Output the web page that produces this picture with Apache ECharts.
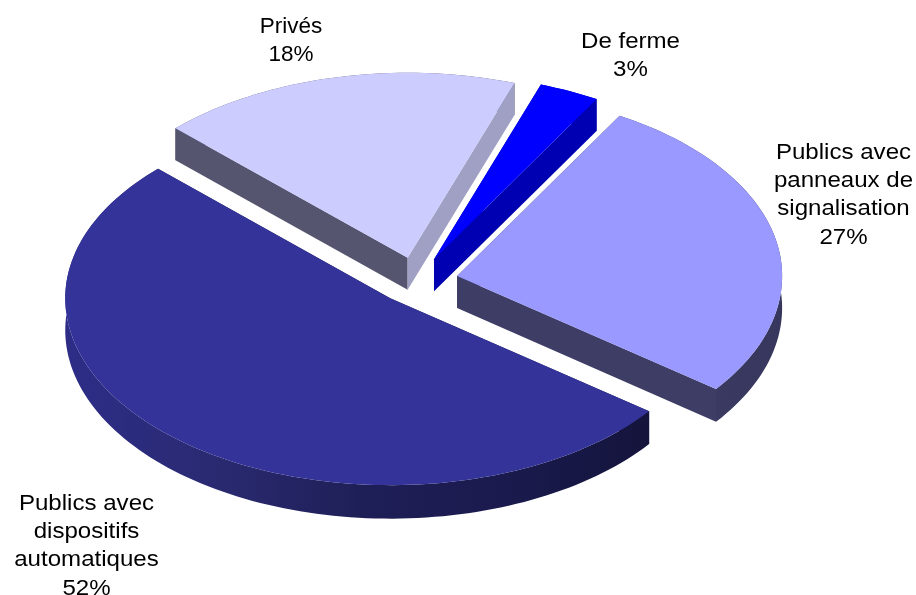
<!DOCTYPE html>
<html lang="fr">
<head>
<meta charset="utf-8">
<title>Passages à niveau</title>
<style>
  html, body { margin: 0; padding: 0; background: #fff; }
  #chart { width: 916px; height: 595px; }
</style>
<script src="https://cdn.jsdelivr.net/npm/echarts@6/dist/echarts.min.js"></script>
</head>
<body>
<div id="chart"></div>
<script>
// Slices, clockwise from the first angle
const categories = ['De ferme', 'Publics avec\npanneaux de\nsignalisation', 'Publics avec\ndispositifs\nautomatiques', 'Privés'];
const shares = [3, 27, 52, 18];

// Tilted-disc geometry: the near half reads slightly larger than the far half
const CX = 417, CY = 280.5, RX = 325, RY_FAR = 185, RY_NEAR = 187;
const DEPTH_FAR = 32, DEPTH_NEAR = 33.5;
const EXPLODE = 0.126;
const FIRST_ANGLE = 19.2;

// Top face, radial faces and rim colours per slice
const topColors = ['#0000ff', '#9999ff', '#333399', '#ccccff'];
const startFaceColors = ['#000099', '#3d3d66', '#1a1a4d', '#555570'];
const endFaceColors = ['#0000b3', '#3d3d66', '#1a1a4d', '#a0a0c4'];
const rimStops = [
  [[0, '#0000b3'], [1, '#0000b3']],
  [[0, '#3d3d66'], [1, '#37375e']],
  [[0, '#2d2d88'], [0.25, '#2a2a72'], [0.5, '#1f1f58'], [0.75, '#1a1a4e'], [1, '#14143c']],
  [[0, '#555570'], [1, '#555570']]
];

// Centre and horizontal stretch of each label block
const labelCenters = [[630.5, 56], [843.5, 195], [86.5, 546], [291, 40.5]];
const labelStretch = [1.07, 1.07, 1.07, 1];

const total = shares.reduce((a, b) => a + b, 0);

function project(cx, cy, deg) {
  const t = deg * Math.PI / 180;
  const c = Math.cos(t);
  return [cx + RX * Math.sin(t), cy - (c < 0 ? RY_NEAR : RY_FAR) * c, c];
}

function renderSlice(params, api) {
  const i = params.dataIndex;
  const value = api.value(0);
  let before = 0;
  for (let k = 0; k < i; k++) before += shares[k];
  const a0 = FIRST_ANGLE + before / total * 360;
  const a1 = a0 + value / total * 360;
  const mid = (a0 + a1) / 2 * Math.PI / 180;

  // The whole slice is pushed out along its bisector
  const cx = CX + EXPLODE * RX * Math.sin(mid);
  const cy = CY - EXPLODE * RY_FAR * Math.cos(mid);

  const arc = [];
  const steps = Math.max(4, Math.ceil((a1 - a0) / 1.5));
  for (let s = 0; s <= steps; s++) {
    arc.push(project(cx, cy, a0 + (a1 - a0) * s / steps));
  }
  const flat = p => [p[0], p[1]];
  const drop = p => {
    const near = p[2] < 0 ? -p[2] : 0;
    return [p[0], p[1] + DEPTH_FAR + (DEPTH_NEAR - DEPTH_FAR) * near];
  };
  const apex = [cx, cy, 0];
  const first = arc[0], last = arc[arc.length - 1];

  const rimWall = {
    type: 'polygon',
    shape: { points: arc.map(flat).concat(arc.slice().reverse().map(drop)) },
    style: {
      fill: new echarts.graphic.LinearGradient(0, 0, 1, 0,
        rimStops[i].map(s => ({ offset: s[0], color: s[1] })))
    }
  };
  const radialFace = (corner, color) => ({
    type: 'polygon',
    shape: { points: [flat(apex), flat(corner), drop(corner), drop(apex)] },
    style: { fill: color }
  });

  // Paint order: a face ending on the near half lies behind the rim, one on the far half in front of it
  const faces = [[first, startFaceColors[i]], [last, endFaceColors[i]]];
  const behindRim = faces.filter(f => f[0][2] < 0).map(f => radialFace(f[0], f[1]));
  const frontOfRim = faces.filter(f => f[0][2] >= 0).map(f => radialFace(f[0], f[1]));
  const percent = Math.round(value / total * 100) + '%';

  return {
    type: 'group',
    children: behindRim.concat([rimWall], frontOfRim, [
      { type: 'polygon', shape: { points: [flat(apex)].concat(arc.map(flat)) }, style: { fill: topColors[i] } },
      {
        type: 'text',
        x: labelCenters[i][0],
        y: labelCenters[i][1],
        scaleX: labelStretch[i],
        style: {
          text: categories[i] + '\n' + percent,
          x: 0,
          y: 0,
          align: 'center',
          verticalAlign: 'middle',
          lineHeight: 28.3,
          font: '22.5px "Liberation Sans", Arial, sans-serif',
          fill: '#000'
        }
      }
    ])
  };
}

const chart = echarts.init(document.getElementById('chart'), null, { renderer: 'canvas' });
chart.setOption({
  animation: false,
  backgroundColor: '#ffffff',
  series: [{
    type: 'custom',
    coordinateSystem: 'none',
    silent: true,
    data: shares.map(v => [v]),
    renderItem: renderSlice
  }]
});
</script>
</body>
</html>
